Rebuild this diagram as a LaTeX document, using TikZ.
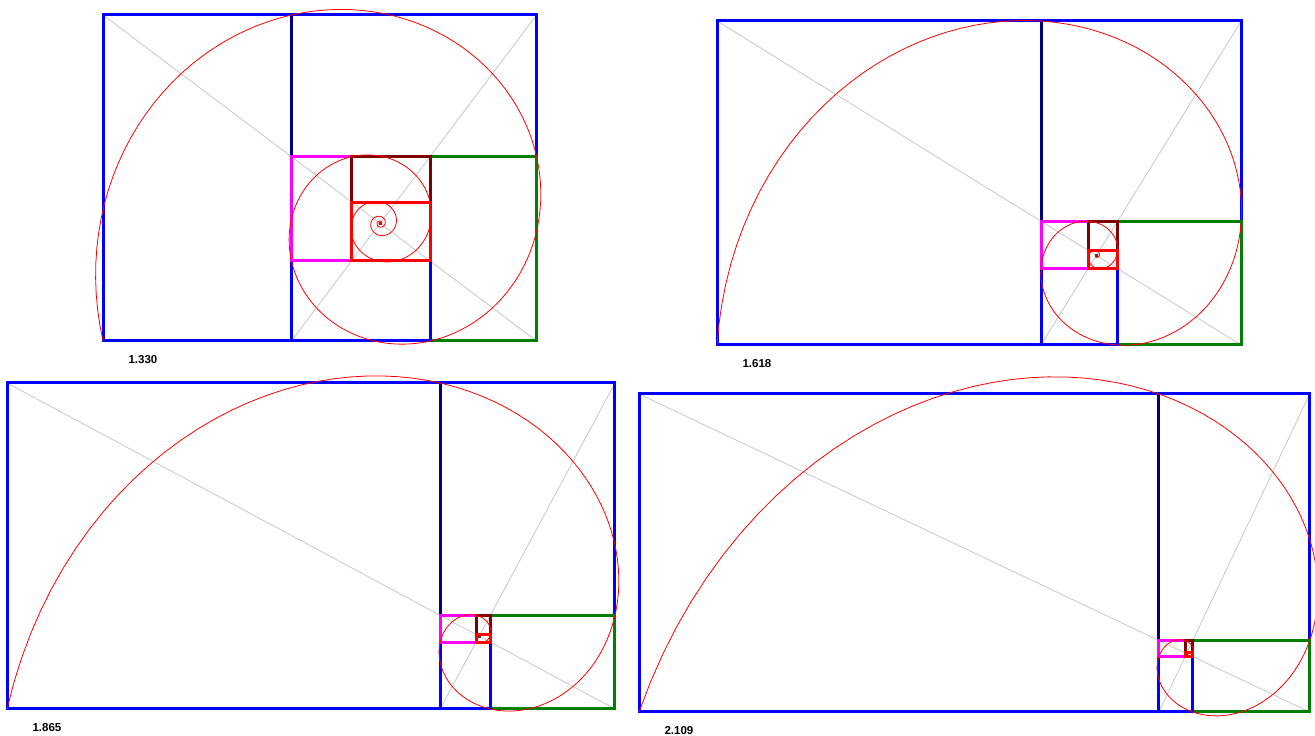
\documentclass[tikz,border=0pt]{standalone}
\usepackage{fontspec}
\setmainfont{Liberation Sans}
\usepackage{tikz}

\definecolor{navyline}{RGB}{0,0,128}
\definecolor{greenline}{RGB}{0,128,0}
\definecolor{maroonline}{RGB}{128,0,0}
\definecolor{blueline}{RGB}{0,0,255}
\definecolor{magentaline}{RGB}{255,0,255}
\definecolor{redline}{RGB}{255,0,0}

% one panel: lower left x, lower left y, height, ratio, label
\newcommand{\ratiopanel}[5]{%
  \begin{scope}[shift={(#1,#2)}]
    \pgfmathsetmacro{\pH}{#3}
    \pgfmathsetmacro{\pW}{#4*#3}
    \pgfmathsetmacro{\pS}{1/#4}
    \pgfmathsetmacro{\pA}{\pW-\pH*\pS}
    \pgfmathsetmacro{\xb}{\pA+\pH*\pS^3}
    \pgfmathsetmacro{\xc}{\xb-\pH*\pS^5}
    \pgfmathsetmacro{\ya}{\pH*\pS^2}
    \pgfmathsetmacro{\yb}{\ya-\pH*\pS^4}
    \pgfmathsetmacro{\yc}{\yb+\pH*\pS^6}
    \pgfmathsetmacro{\cx}{\pW/(1+\pS^2)}
    \pgfmathsetmacro{\cy}{\pH*\pS^2/(1+\pS^2)}
    \pgfmathsetmacro{\pR}{100*veclen(\cx/100,\cy/100)}
    \pgfmathsetmacro{\pT}{180+atan(\cy/\cx)}
    \pgfmathsetmacro{\pL}{ln(\pR)}
    \pgfmathsetmacro{\pM}{ln(#4)}
    \pgfmathsetmacro{\pE}{90*(\pL+0.7)/\pM}
    \pgfmathtruncatemacro{\pN}{\pE/3}
    % diagonals
    \draw[diag] (0,\pH) -- (\pW,0);
    \draw[diag] (\pA,0) -- (\pW,\pH);
    \fill[black!75] (\cx-1.5,\cy-1.5) rectangle (\cx+1.5,\cy+1.5);
    % nested pieces
    \draw[frame, navyline]    (\pA,\ya) -- (\pA,\pH);
    \draw[frame, blueline]    (0,0) rectangle (\pW,\pH);
    \draw[frame, greenline]   (\xb,0) rectangle (\pW,\ya);
    \draw[frame, blueline]    (\pA,0) rectangle (\xb,\yb);
    \draw[frame, magentaline] (\pA,\yb) rectangle (\xc,\ya);
    \draw[frame, maroonline]  (\xc,\yc) rectangle (\xb,\ya);
    \draw[frame, redline]     (\xc,\yb) rectangle (\xb,\yc);
    % spiral
    \draw[spiral, shift={(\cx,\cy)}] plot[domain=0:\pE, samples=\pN]
      ({\pT-\x}:{exp(\pL-\pM*\x/90)});
    \node[lbl] (#5) at (22,-19) {#5};
  \end{scope}}

\begin{document}
\begin{tikzpicture}[
  x=1pt, y=1pt,
  frame/.style={line width=3pt},
  diag/.style={black!22, line width=0.8pt},
  spiral/.style={redline, line width=0.8pt},
  lbl/.style={anchor=west, font=\fontsize{11.5}{13}\selectfont\bfseries}
]
\useasboundingbox (0,0) rectangle (1315,736);

% ── top row ──────────────────────────────────────────────────
\ratiopanel{103}{395}{326}{1.330}{1.330}
\ratiopanel{717}{391}{324}{1.618}{1.618}

% ── bottom row ───────────────────────────────────────────────
\ratiopanel{7}{27}{326}{1.865}{1.865}
\ratiopanel{639}{24}{318}{2.109}{2.109}
\end{tikzpicture}
\end{document}
